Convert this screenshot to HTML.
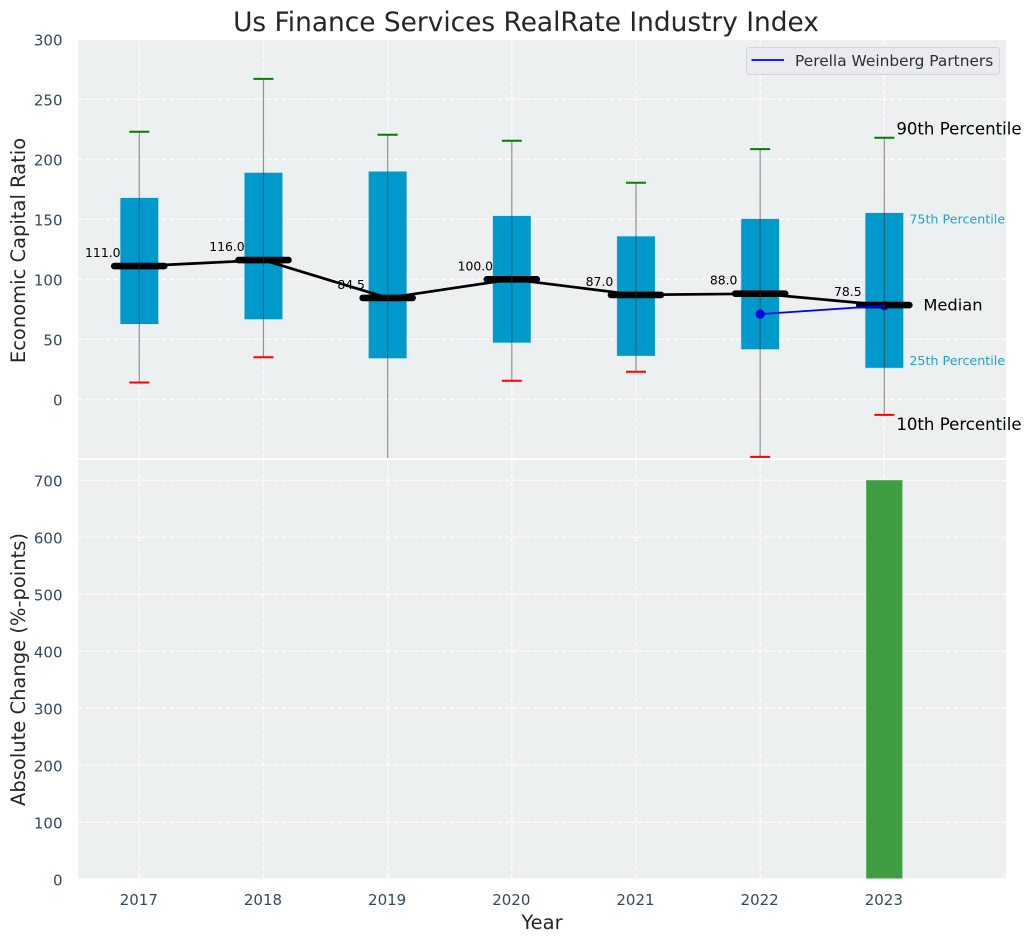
<!DOCTYPE html>
<html>
<head>
<meta charset="utf-8">
<title>Us Finance Services RealRate Industry Index</title>
<style>
html,body{margin:0;padding:0;background:#fff;width:1031px;height:942px;overflow:hidden}
svg{display:block;font-family:"DejaVu Sans","Liberation Sans",sans-serif}
</style>
</head>
<body>
<svg id="chart" xmlns="http://www.w3.org/2000/svg" width="1031" height="942" viewBox="0 0 1031 942"></svg>
<script>
const years = [2017, 2018, 2019, 2020, 2021, 2022, 2023];
const p90 = [223, 267, 220.5, 215.5, 180.5, 208.5, 218];
const p75 = [168, 189, 190, 153, 136, 150.5, 155.5];
const medians = [111, 116, 84.5, 100, 87, 88, 78.5];
const p25 = [62.5, 66.5, 34, 47, 36, 41.5, 26];
const p10 = [14, 35, -60, 15.5, 23, -48, -13];
const peerYears = [2022, 2023];
const peerValues = [71, 78];
const changeYears = [2023];
const changeValues = [700];
const topTicks = [0, 50, 100, 150, 200, 250, 300];
const bottomTicks = [0, 100, 200, 300, 400, 500, 600, 700];

const svg = document.getElementById('chart');
const NS = 'http://www.w3.org/2000/svg';
const L = 78, R = 1006, T1 = 40, B1 = 458, T2 = 460, B2 = 878.5;
const x = function (v) { return 139.3 + (v - 2017) * 124.17; };
const y1 = function (v) { return 399.3 - v * 1.2; };
const y2 = function (v) { return 879.3 - v * 0.57; };

function make(tag, attrs, parent) {
  const el = document.createElementNS(NS, tag);
  for (const k in attrs) el.setAttribute(k, attrs[k]);
  (parent || svg).appendChild(el);
  return el;
}
function label(str, attrs, parent) {
  const el = make('text', attrs, parent);
  el.textContent = str;
  return el;
}

const defs = make('defs', {});
const clip = make('clipPath', { id: 'top-clip' }, defs);
make('rect', { x: L, y: T1, width: R - L, height: B1 - T1 }, clip);
const clipLower = make('clipPath', { id: 'bottom-clip' }, defs);
make('rect', { x: L, y: T2, width: R - L, height: B2 - T2 }, clipLower);

// Panels
const panelTop = make('rect', { x: L, y: T1, width: R - L, height: B1 - T1, fill: '#ecf0f1' });


const panelBottom = make('rect', { x: L, y: T2, width: R - L, height: B2 - T2, fill: '#ecf0f1' });



const gridAttrs = { stroke: '#ffffff', 'stroke-width': 1.3, 'stroke-dasharray': '5 2', opacity: 0.85 };

// Gridlines
const lowerGrid = make('g', { 'clip-path': 'url(#bottom-clip)' });


topTicks.forEach(function (t) {
  const g = make('line', Object.assign({ x1: L, x2: R, y1: y1(t), y2: y1(t) }, gridAttrs));
  
  
});
bottomTicks.forEach(function (t) {
  const g = make('line', Object.assign({ x1: L, x2: R, y1: y2(t), y2: y2(t) }, gridAttrs), lowerGrid);
  
  
});
years.forEach(function (yr) {
  const g1 = make('line', Object.assign({ x1: x(yr), x2: x(yr), y1: T1, y2: B1 }, gridAttrs));
  
  
  const g2 = make('line', Object.assign({ x1: x(yr), x2: x(yr), y1: T2, y2: B2 }, gridAttrs));
  
  
});

const plot = make('g', { 'clip-path': 'url(#top-clip)' });



// Boxes
years.forEach(function (yr, i) {
  const b = make('rect', {
    x: x(yr) - 19.2, width: 38.4, y: y1(p75[i]), height: y1(p25[i]) - y1(p75[i]),
    fill: '#0099cc', stroke: '#c4e4ef', 'stroke-width': 0.6
  }, plot);
  
  
});

// Median connector
const connector = make('polyline', {
  points: years.map(function (yr, i) { return x(yr) + ',' + y1(medians[i]); }).join(' '),
  fill: 'none', stroke: '#000000', 'stroke-width': 2.7, 'stroke-linejoin': 'round'
}, plot);



// Peer markers (under the median bars)
peerYears.forEach(function (yr, i) {
  const c = make('circle', { cx: x(yr), cy: y1(peerValues[i]), r: 4.6, fill: '#0000ff' }, plot);
  
  
});

// Median bars
years.forEach(function (yr, i) {
  const m = make('line', {
    x1: x(yr) - 25, x2: x(yr) + 25, y1: y1(medians[i]), y2: y1(medians[i]),
    stroke: '#000000', 'stroke-width': 6.6, 'stroke-linecap': 'round'
  }, plot);
  
  
});

// Peer line
const peerLine = make('polyline', {
  points: peerYears.map(function (yr, i) { return x(yr) + ',' + y1(peerValues[i]); }).join(' '),
  fill: 'none', stroke: '#0000ff', 'stroke-width': 1.8
}, plot);



// Whiskers and caps
years.forEach(function (yr, i) {
  const w = make('line', {
    x1: x(yr), x2: x(yr), y1: y1(p90[i]), y2: y1(p10[i]),
    stroke: '#333333', 'stroke-opacity': 0.52, 'stroke-width': 1.2
  }, plot);
  
  
  const hi = make('line', {
    x1: x(yr) - 10, x2: x(yr) + 10, y1: y1(p90[i]), y2: y1(p90[i]),
    stroke: '#008000', 'stroke-width': 2
  }, plot);
  
  
  const lo = make('line', {
    x1: x(yr) - 10, x2: x(yr) + 10, y1: y1(p10[i]), y2: y1(p10[i]),
    stroke: '#ff0000', 'stroke-width': 2
  }, plot);
  
  
});

// Median value labels
years.forEach(function (yr, i) {
  const t = label(medians[i].toFixed(1), {
    x: x(yr) - 36.5, y: y1(medians[i]) - 9, 'text-anchor': 'middle', 'font-size': 12.4, fill: '#000000'
  });
  
  
});

// Change bars
changeYears.forEach(function (yr, i) {
  const b = make('rect', {
    x: x(yr) - 18, width: 36, y: y2(changeValues[i]), height: y2(0) - y2(changeValues[i]),
    fill: '#399b3c', 'fill-opacity': 0.97, stroke: '#78bd7a', 'stroke-width': 0.6, 'clip-path': 'url(#bottom-clip)'
  });
  
  
});

// Tick labels
const tickColor = '#34495e';
topTicks.forEach(function (t) {
  const el = label(String(t), { x: 62.5, y: y1(t) + 6, 'text-anchor': 'end', 'font-size': 15, fill: tickColor });
  
  
});
bottomTicks.forEach(function (t) {
  const el = label(String(t), { x: 62.5, y: y2(t) + 6, 'text-anchor': 'end', 'font-size': 15, fill: tickColor });
  
  
});
years.forEach(function (yr) {
  const el = label(String(yr), { x: x(yr) - 0.5, y: 905, 'text-anchor': 'middle', 'font-size': 15, fill: tickColor });
  
  
});

// Percentile annotations (anchored to the final year)
const lastIdx = years.length - 1;
const lastX = x(years[lastIdx]);
const ann90 = label('90th Percentile', { x: lastX + 12, y: y1(p90[lastIdx]) - 3, 'font-size': 16.6, fill: '#000000' });


const ann75 = label('75th Percentile', { x: lastX + 25, y: y1(p75[lastIdx]) + 11, 'font-size': 12.7, fill: '#1fa3cf' });


const annMed = label('Median', { x: lastX + 39, y: y1(medians[lastIdx]) + 5.5, 'font-size': 16.3, fill: '#000000' });


const ann25 = label('25th Percentile', { x: lastX + 25, y: y1(p25[lastIdx]) - 3, 'font-size': 12.7, fill: '#1fa3cf' });


const ann10 = label('10th Percentile', { x: lastX + 12, y: y1(p10[lastIdx]) + 15, 'font-size': 16.6, fill: '#000000' });



// Legend
const legendBox = make('rect', { x: 746.5, y: 47.5, width: 253, height: 27, rx: 3, fill: '#e9ebf0', stroke: '#d3d5d8', 'stroke-width': 1 });


const legendLine = make('line', { x1: 751.5, x2: 784, y1: 60, y2: 60, stroke: '#0000ff', 'stroke-width': 1.8 });


const legendText = label('Perella Weinberg Partners', { x: 795, y: 65.8, 'font-size': 15.4, fill: '#2f2f2f' });



// Titles
const title = label('Us Finance Services RealRate Industry Index', { x: 526, y: 31, 'text-anchor': 'middle', 'font-size': 26.4, fill: '#262626' });


const yTop = label('Economic Capital Ratio', { x: 0, y: 0, 'text-anchor': 'middle', 'font-size': 19.5, fill: '#262626', transform: 'translate(25,250.5) rotate(-90)' });


const yBottom = label('Absolute Change (%-points)', { x: 0, y: 0, 'text-anchor': 'middle', 'font-size': 19.5, fill: '#262626', transform: 'translate(25,669.5) rotate(-90)' });


const xTitle = label('Year', { x: 542, y: 929, 'text-anchor': 'middle', 'font-size': 19.5, fill: '#262626' });


</script>
</body>
</html>
